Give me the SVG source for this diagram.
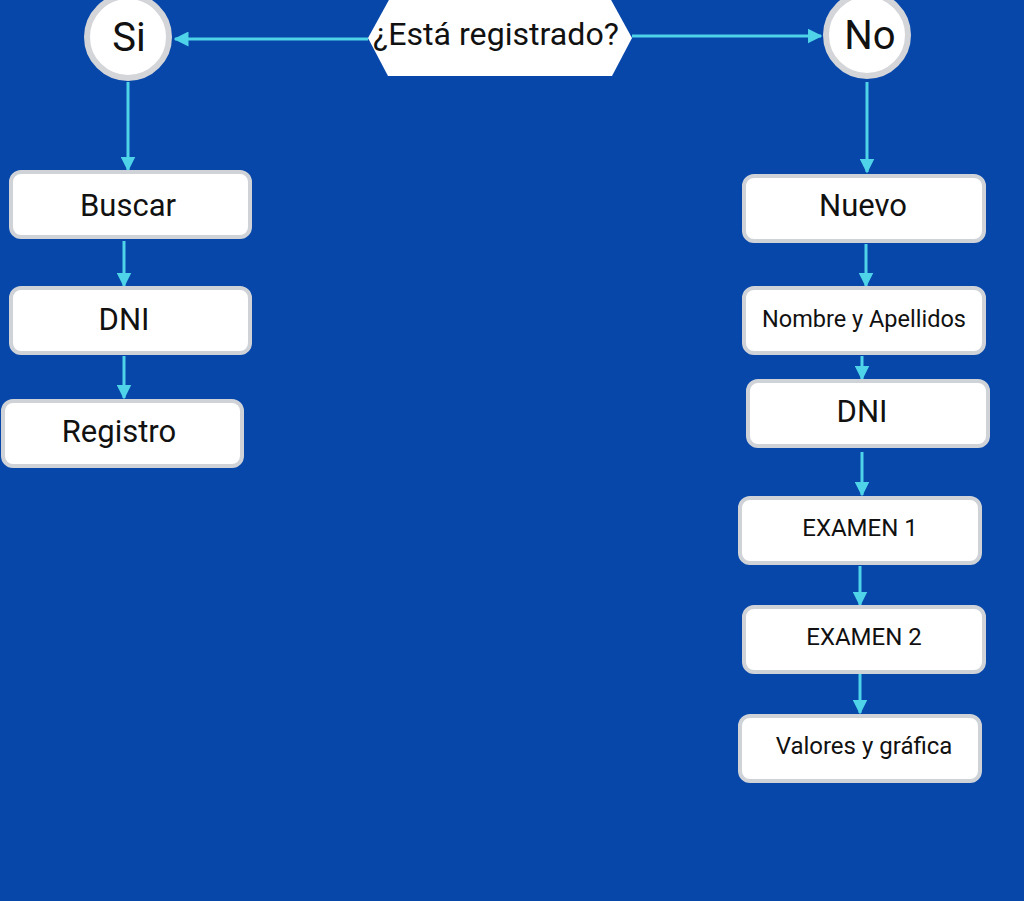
<svg xmlns="http://www.w3.org/2000/svg" width="1024" height="901" viewBox="0 0 1024 901">
<defs>
<marker id="ah" viewBox="0 0 10 10" refX="9" refY="5" markerWidth="5" markerHeight="5" orient="auto" markerUnits="strokeWidth">
<path d="M0,0 L10,5 L0,10 z" fill="#4fd3e8"/>
</marker>
<style>
.box{fill:#ffffff;stroke:#cfd3d8;stroke-width:4}
.circ{fill:#ffffff;stroke:#d3d5d9;stroke-width:6}
.t{font-family:Roboto,"Liberation Sans",sans-serif;fill:#111111;text-anchor:middle;dominant-baseline:central}
.l{fill:none;stroke:#4fd3e8;stroke-width:3;marker-end:url(#ah)}
</style>
</defs>
<rect x="0" y="0" width="1024" height="901" fill="#0747a9"/>
<g id="connectors">
<line class="l" x1="368" y1="39" x2="175" y2="39"/>
<line class="l" x1="632" y1="36" x2="821" y2="36"/>
<line class="l" x1="128" y1="82" x2="128" y2="170"/>
<line class="l" x1="124" y1="241" x2="124" y2="286"/>
<line class="l" x1="124" y1="356" x2="124" y2="398"/>
<line class="l" x1="867" y1="82" x2="867" y2="172"/>
<line class="l" x1="866" y1="244" x2="866" y2="286"/>
<line class="l" x1="862" y1="356" x2="862" y2="379"/>
<line class="l" x1="862" y1="452" x2="862" y2="495"/>
<line class="l" x1="860" y1="566" x2="860" y2="605"/>
<line class="l" x1="860" y1="674" x2="860" y2="713"/>
</g>
<g id="q">
<polygon points="368,38 390,-2 610,-2 632,38 612,76 388,76" fill="#ffffff"/>
<text class="t" x="496" y="34" font-size="31" textLength="246" lengthAdjust="spacingAndGlyphs">¿Está registrado?</text>
</g>
<g id="si">
<circle class="circ" cx="128" cy="37" r="41"/>
<text class="t" x="129" y="37" font-size="40">Si</text>
</g>
<g id="no">
<circle class="circ" cx="867" cy="35" r="41"/>
<text class="t" x="870" y="35" font-size="40">No</text>
</g>
<g id="buscar">
<rect class="box" x="11" y="172" width="239" height="65" rx="10"/>
<text class="t" x="128" y="205" font-size="31">Buscar</text>
</g>
<g id="dni1">
<rect class="box" x="11" y="288" width="239" height="65" rx="10"/>
<text class="t" x="124" y="319" font-size="31">DNI</text>
</g>
<g id="registro">
<rect class="box" x="3" y="401" width="239" height="65" rx="10"/>
<text class="t" x="119" y="431" font-size="31">Registro</text>
</g>
<g id="nuevo">
<rect class="box" x="744" y="176" width="240" height="65" rx="10"/>
<text class="t" x="863" y="205" font-size="31">Nuevo</text>
</g>
<g id="nombre">
<rect class="box" x="744" y="288" width="240" height="65" rx="10"/>
<text class="t" x="864" y="319" font-size="23.5">Nombre y Apellidos</text>
</g>
<g id="dni2">
<rect class="box" x="748" y="381" width="240" height="65" rx="10"/>
<text class="t" x="862" y="411" font-size="31">DNI</text>
</g>
<g id="examen1">
<rect class="box" x="740" y="498" width="240" height="65" rx="10"/>
<text class="t" x="860" y="528" font-size="24">EXAMEN 1</text>
</g>
<g id="examen2">
<rect class="box" x="744" y="607" width="240" height="65" rx="10"/>
<text class="t" x="864" y="637" font-size="24">EXAMEN 2</text>
</g>
<g id="valores">
<rect class="box" x="740" y="716" width="240" height="65" rx="10"/>
<text class="t" x="864" y="746" font-size="24">Valores y gráfica</text>
</g>
</svg>
